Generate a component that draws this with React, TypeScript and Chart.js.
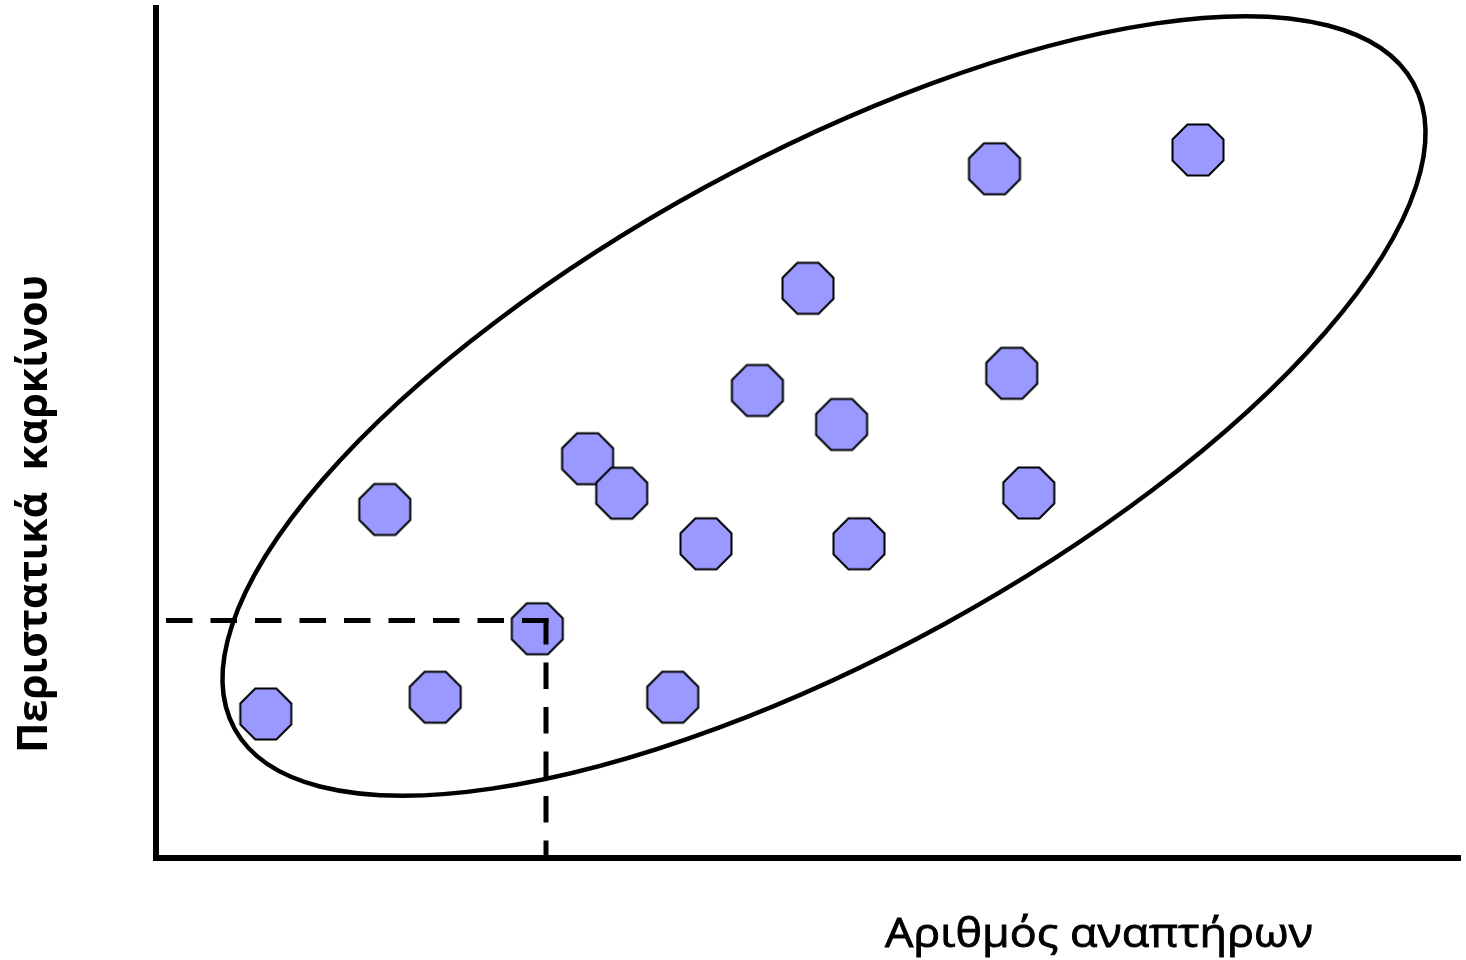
import React, { useEffect, useRef } from "react";
import { Chart, registerables } from "chart.js";

Chart.register(...registerables);

// ---- data (units: arbitrary, same scale on both axes) ----
const casesX = [10.98, 27.92, 38.13, 22.88, 43.16, 46.57, 55.0, 51.67, 60.14, 65.2, 68.56, 70.3, 83.85, 85.57, 87.28, 104.2];
const casesY = [14.4, 16.08, 22.92, 34.85, 39.93, 36.48, 31.42, 16.08, 46.75, 56.97, 43.35, 31.42, 68.92, 48.47, 36.5, 70.8];
const guideX = 39.0;
const guideY = 23.75;
const xAxisMax = 130.4;
const yAxisMax = 85;
const ellipseCenter = [66.8, 45.2];
const ellipseRadii = [67.2, 24.9];
const ellipseAngleDeg = 28.7;
const xTitle = "Αριθμός αναπτήρων";
const yTitle = "Περιστατικά  καρκίνου";

function makeOctagon(apothem: number, fill: string, stroke: string, lw: number): HTMLCanvasElement {
  const R = apothem / Math.cos(Math.PI / 8);
  let size = Math.ceil(2 * R + 2 * lw + 2);
  if (size % 2) size += 1;
  const c = document.createElement("canvas");
  c.width = size;
  c.height = size;
  const g = c.getContext("2d")!;
  g.beginPath();
  for (let k = 0; k < 8; k++) {
    const a = Math.PI / 8 + (k * Math.PI) / 4;
    const px = size / 2 + R * Math.cos(a);
    const py = size / 2 + R * Math.sin(a);
    if (k === 0) g.moveTo(px, py);
    else g.lineTo(px, py);
  }
  g.closePath();
  g.fillStyle = fill;
  g.fill();
  g.lineWidth = lw;
  g.strokeStyle = stroke;
  g.stroke();
  return c;
}

const ellipsePlugin = {
  id: "ellipseOutline",
  beforeDatasetsDraw(chart: any) {
    const { ctx, scales } = chart;
    const x = scales.x;
    const y = scales.y;
    const cx = x.getPixelForValue(ellipseCenter[0]);
    const cy = y.getPixelForValue(ellipseCenter[1]);
    const rx = Math.abs(x.getPixelForValue(ellipseCenter[0] + ellipseRadii[0]) - cx);
    const ry = Math.abs(x.getPixelForValue(ellipseCenter[0] + ellipseRadii[1]) - cx);
    ctx.save();
    ctx.beginPath();
    ctx.ellipse(cx, cy, rx, ry, (-ellipseAngleDeg * Math.PI) / 180, 0, Math.PI * 2);
    ctx.lineWidth = 4.5;
    ctx.strokeStyle = "#000";
    ctx.stroke();
    ctx.restore();
  },
};

const titlesPlugin = {
  id: "axisTitles",
  afterDraw(chart: any) {
    const { ctx } = chart;
    ctx.save();
    ctx.fillStyle = "#000";
    ctx.strokeStyle = "#000";
    // x title
    ctx.font = "400 41px 'Open Sans', sans-serif";
    ctx.textAlign = "center";
    ctx.textBaseline = "alphabetic";
    let w = ctx.measureText(xTitle).width;
    ctx.save();
    ctx.translate(1099, 947);
    ctx.scale(428 / w, 1);
    ctx.fillText(xTitle, 0, 0);
    ctx.lineWidth = 0.9;
    ctx.strokeText(xTitle, 0, 0);
    ctx.restore();
    // y title
    ctx.font = "700 42px 'Open Sans', sans-serif";
    w = ctx.measureText(yTitle).width;
    ctx.save();
    ctx.translate(47, 514);
    ctx.rotate(-Math.PI / 2);
    ctx.scale(478 / w, 1);
    ctx.fillText(yTitle, 0, 0);
    ctx.restore();
    ctx.restore();
  },
};

export default function App() {
  const ref = useRef<HTMLCanvasElement | null>(null);

  useEffect(() => {
    if (!ref.current) return;
    const octagon = makeOctagon(25.5, "#9999ff", "#000000", 2);
    const guideStyle = {
      showLine: true,
      borderColor: "#000",
      borderWidth: 5,
      borderDash: [21.5, 23],
      borderCapStyle: "square" as const,
      pointRadius: 0,
      pointHoverRadius: 0,
      order: 0,
    };
    const chart = new Chart(ref.current, {
      type: "scatter",
      data: {
        datasets: [
          {
            label: "guide-h",
            data: [
              { x: guideX, y: guideY },
              { x: 0, y: guideY },
            ],
            ...guideStyle,
          },
          {
            label: "guide-v",
            data: [
              { x: guideX, y: guideY },
              { x: guideX, y: 0 },
            ],
            ...guideStyle,
          },
          {
            label: "cases",
            data: casesX.map((x, i) => ({ x, y: casesY[i] })),
            pointStyle: octagon as any,
            pointRadius: 26,
            pointHoverRadius: 26,
            order: 1,
          },
        ],
      },
      options: {
        animation: false,
        responsive: false,
        events: [],
        layout: { autoPadding: false, padding: { left: 156, right: 6, top: 8, bottom: 102 } },
        plugins: {
          legend: { display: false },
          tooltip: { enabled: false },
          title: { display: false },
        },
        scales: {
          x: {
            type: "linear",
            min: 0,
            max: xAxisMax,
            ticks: { display: false },
            grid: { display: false, drawTicks: false },
            border: { display: true, width: 6, color: "#000" },
          },
          y: {
            type: "linear",
            min: 0,
            max: yAxisMax,
            ticks: { display: false },
            grid: { display: false, drawTicks: false },
            border: { display: true, width: 6, color: "#000" },
          },
        },
      },
      plugins: [ellipsePlugin, titlesPlugin],
    });
    return () => chart.destroy();
  }, []);

  return (
    <div style={{ position: "fixed", left: 0, top: 0, width: 1466, height: 960, background: "#fff" }}>
      <canvas ref={ref} width={1466} height={960} style={{ display: "block" }} />
    </div>
  );
}
